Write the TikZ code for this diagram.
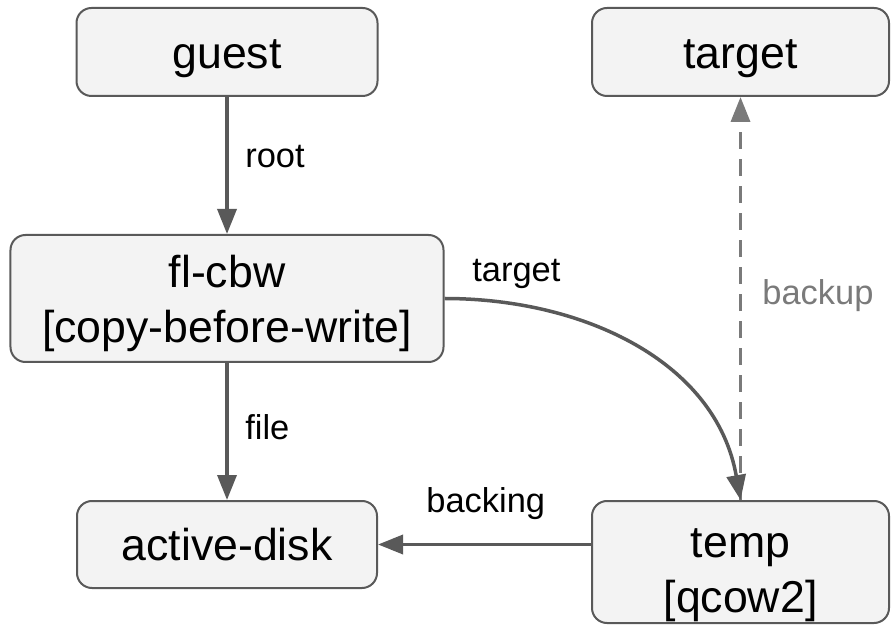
\documentclass[tikz,border=0pt]{standalone}
\usepackage{fontspec}
\setmainfont{Liberation Sans}
\usetikzlibrary{arrows.meta}
\definecolor{boxfill}{HTML}{F3F3F3}
\definecolor{boxline}{HTML}{595959}
\definecolor{dashline}{HTML}{7A7A7A}
\newcommand{\diagbig}{\fontsize{25.4pt}{31.5pt}\selectfont}
\newcommand{\diaglbl}{\fontsize{19.6pt}{23.5pt}\selectfont}
\begin{document}
\begin{tikzpicture}[
    blk/.style={draw=boxline, line width=0.04cm, fill=boxfill, rounded corners=0.3cm,
        font=\diagbig, align=center, inner sep=0pt},
    oneline/.style={text height=18.3pt, text depth=0pt},
    lbl/.style={font=\diaglbl, inner sep=0pt, anchor=base west},
    conn/.style={draw=boxline, line width=0.07cm, -{Triangle[length=0.5cm,width=0.38cm]}},
    dashconn/.style={conn, draw=dashline, dash pattern=on 0.34cm off 0.2cm}
]
    \useasboundingbox (0,0) rectangle (17.82,12.5);
    \node[blk, oneline, minimum width=6.02cm, minimum height=1.76cm] (guest) at (4.54,11.46) {guest};
    \node[blk, oneline, minimum width=5.94cm, minimum height=1.76cm] (target) at (14.81,11.46) {target};
    \node[blk, minimum width=8.66cm, minimum height=2.54cm] (cbw) at (4.54,6.53) {\rule{0pt}{0.84cm}fl-cbw\\{}[copy-before-write]};
    \node[blk, oneline, minimum width=6.0cm, minimum height=1.74cm] (disk) at (4.54,1.61) {active-disk};
    \node[blk, minimum width=5.94cm, minimum height=2.44cm] (temp) at (14.81,1.26) {\rule{0pt}{1.1cm}temp\\{}[qcow2]};
    % edge labels
    \node[lbl] (rootlbl) at (4.90,9.14) {root};
    \node[lbl] (filelbl) at (4.90,3.72) {file};
    \node[lbl] (targetlbl) at (9.44,6.86) {target};
    \node[lbl] (backinglbl) at (8.52,2.26) {backing};
    \node[lbl, text=dashline] (backuplbl) at (15.24,6.40) {backup};
    \draw[conn] (guest) -- (cbw);
    \draw[conn] (cbw) -- (disk);
    \draw[dashconn] (temp.north) -- (target.south);
    \draw[conn] (cbw.east) to[out=0,in=100] (temp.north);
    \draw[conn] (temp.west |- disk.east) -- (disk.east);
\end{tikzpicture}
\end{document}
